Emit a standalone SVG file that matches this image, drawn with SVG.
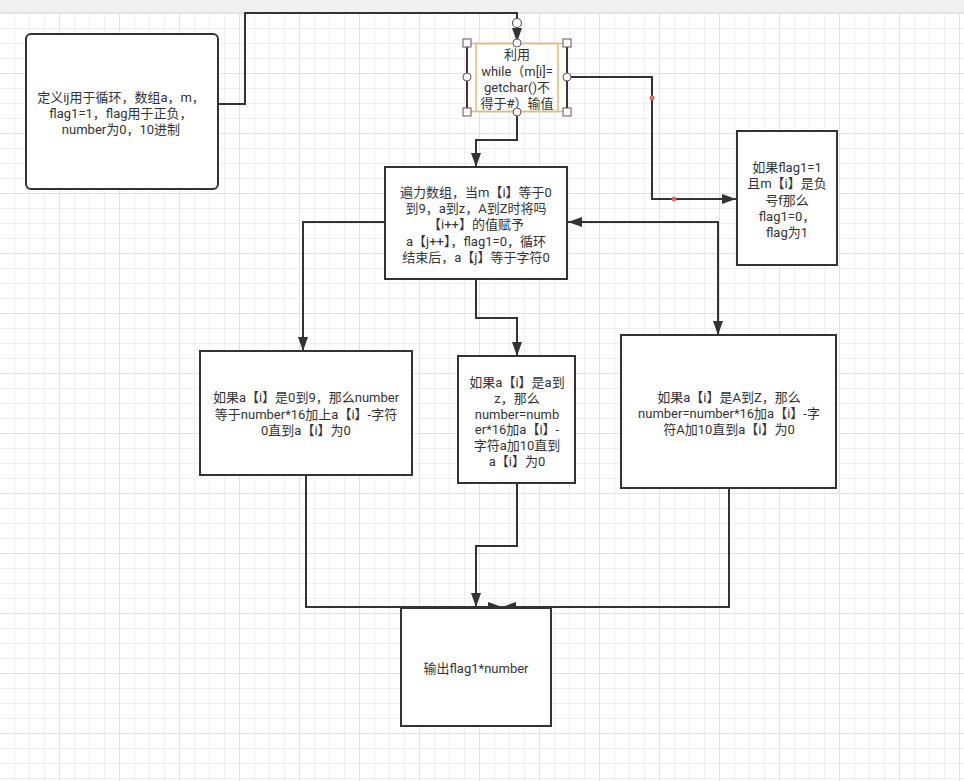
<svg xmlns="http://www.w3.org/2000/svg" width="964" height="781" viewBox="0 0 964 781">
<defs>
<pattern id="minor" patternUnits="userSpaceOnUse" x="14" y="13" width="15" height="15">
<path d="M0 0.5H15M0.5 0V15" stroke="#efefef" stroke-width="1" fill="none"/>
</pattern>
<pattern id="major" patternUnits="userSpaceOnUse" x="59" y="13" width="60" height="60">
<path d="M0 0.5H60M0.5 0V60" stroke="#e2e2e2" stroke-width="1" fill="none"/>
</pattern>
<marker id="arr" viewBox="0 0 14 10" markerUnits="userSpaceOnUse" markerWidth="14" markerHeight="10" refX="14" refY="5" orient="auto-start-reverse">
<path d="M0 0L14 5L0 10z" fill="#333"/>
</marker>
</defs>
<style>
.node{fill:#fff;stroke:#333;stroke-width:2}
.conn{fill:none;stroke:#333;stroke-width:2}
.t{font-family:Roboto,"Noto Sans CJK SC",sans-serif;font-size:13px;fill:#333;text-anchor:middle}
.hs{fill:#fff;stroke:#6b4f55;stroke-width:1}
.dot{fill:#e06a5a}
</style>
<rect x="0" y="0" width="964" height="781" fill="#fff"/>
<rect x="0" y="13" width="964" height="768" fill="url(#minor)"/>
<rect x="0" y="13" width="964" height="768" fill="url(#major)"/>
<rect x="0" y="0" width="964" height="12" fill="#f0f0f0"/>
<line x1="0" y1="12.5" x2="964" y2="12.5" stroke="#e4e4e4"/>

<g id="connectors">
<path class="conn" d="M218 104H245V13H517V27"/>
<path class="conn" d="M517 27V42" marker-end="url(#arr)"/>
<path class="conn" d="M517 113V140H476V167" marker-end="url(#arr)"/>
<path class="conn" d="M567 77H652V199H736" marker-end="url(#arr)"/>
<path class="conn" d="M568 222H718V335" marker-start="url(#arr)" marker-end="url(#arr)"/>
<path class="conn" d="M385 222H303V351" marker-end="url(#arr)"/>
<path class="conn" d="M476 280V318H517V356" marker-end="url(#arr)"/>
<path class="conn" d="M306 476V607H502" marker-end="url(#arr)"/>
<path class="conn" d="M517 484V546H476V607" marker-end="url(#arr)"/>
<path class="conn" d="M729 488V607H502" marker-end="url(#arr)"/>
<circle cx="517" cy="23" r="4.5" fill="#fff" stroke="#555" stroke-width="1.2"/>
<circle class="dot" cx="652" cy="98" r="2.5"/>
<circle class="dot" cx="674" cy="199" r="2.5"/>
</g>

<g id="n1">
<rect class="node" x="26" y="34" width="192" height="155" rx="5"/>
<text class="t"><tspan x="121" y="102">定义ij用于循环，数组a，m，</tspan><tspan x="121" y="118">flag1=1，flag用于正负，</tspan><tspan x="121" y="134">number为0，10进制</tspan></text>
</g>

<g id="n2">
<rect x="467" y="43" width="100" height="69" fill="#fff" stroke="none"/>
<line x1="467" y1="43" x2="467" y2="112" stroke="#3d3336" stroke-width="2"/>
<line x1="567" y1="43" x2="567" y2="112" stroke="#3d3336" stroke-width="2"/>
<line x1="467" y1="43.5" x2="567" y2="43.5" stroke="#d8bd95" stroke-width="1.5"/>
<line x1="467" y1="111.5" x2="567" y2="111.5" stroke="#d8bd95" stroke-width="1.5"/>
<rect x="476" y="43.5" width="82" height="68" fill="none" stroke="#e3b878" stroke-width="1.5"/>
<text class="t"><tspan x="517" y="59">利用</tspan><tspan x="517" y="76">while（m[i]=</tspan><tspan x="517" y="92">getchar()不</tspan><tspan x="517" y="108">得于#）输值</tspan></text>
<rect class="hs" x="463" y="39" width="8" height="8"/>
<rect class="hs" x="563" y="39" width="8" height="8"/>
<rect class="hs" x="463" y="108" width="8" height="8"/>
<rect class="hs" x="563" y="108" width="8" height="8"/>
<circle class="hs" cx="517" cy="43" r="4"/>
<circle class="hs" cx="467" cy="77" r="4"/>
<circle class="hs" cx="567" cy="77" r="4"/>
<circle class="hs" cx="517" cy="112" r="4"/>
</g>

<g id="n3">
<rect class="node" x="385" y="167" width="182" height="112"/>
<text class="t"><tspan x="476" y="197">遍力数组，当m【i】等于0</tspan><tspan x="476" y="213">到9，a到z，A到Z时将吗</tspan><tspan x="476" y="229">【i++】的值赋予</tspan><tspan x="476" y="246">a【j++】，flag1=0，循环</tspan><tspan x="476" y="262">结束后，a【j】等于字符0</tspan></text>
</g>

<g id="n4">
<rect class="node" x="737" y="131" width="100" height="134"/>
<text class="t"><tspan x="787" y="172">如果flag1=1</tspan><tspan x="787" y="188">且m【i】是负</tspan><tspan x="787" y="205">号f那么</tspan><tspan x="787" y="221">flag1=0，</tspan><tspan x="787" y="237">flag为1</tspan></text>
</g>

<g id="n5">
<rect class="node" x="200" y="351" width="212" height="124"/>
<text class="t"><tspan x="306" y="402">如果a【i】是0到9，那么number</tspan><tspan x="306" y="419">等于number*16加上a【i】-字符</tspan><tspan x="306" y="435">0直到a【i】为0</tspan></text>
</g>

<g id="n6">
<rect class="node" x="458" y="356" width="117" height="127"/>
<text class="t"><tspan x="517" y="387">如果a【i】是a到</tspan><tspan x="517" y="403">z，那么</tspan><tspan x="517" y="419">number=numb</tspan><tspan x="517" y="434">er*16加a【i】-</tspan><tspan x="517" y="450">字符a加10直到</tspan><tspan x="517" y="466">a【i】为0</tspan></text>
</g>

<g id="n7">
<rect class="node" x="621" y="335" width="215" height="153"/>
<text class="t"><tspan x="729" y="402">如果a【i】是A到Z，那么</tspan><tspan x="729" y="418">number=number*16加a【i】-字</tspan><tspan x="729" y="434">符A加10直到a【i】为0</tspan></text>
</g>

<g id="n8">
<rect class="node" x="401" y="608" width="150" height="118"/>
<text class="t" x="476" y="673">输出flag1*number</text>
</g>
</svg>
